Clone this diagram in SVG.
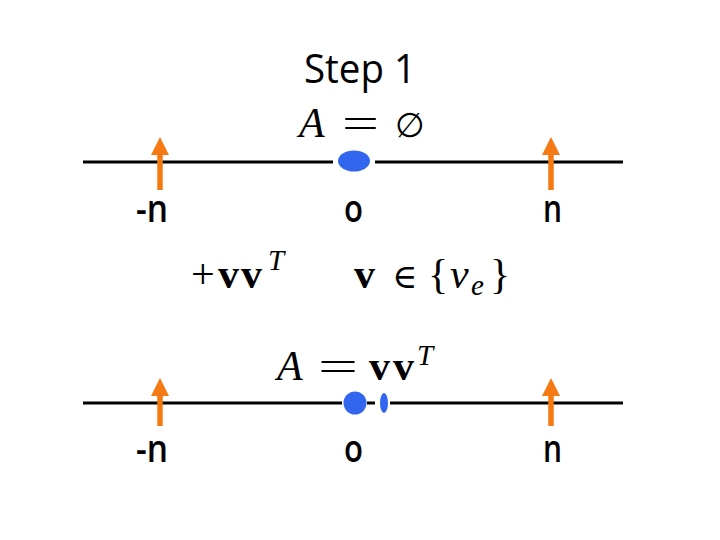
<svg xmlns="http://www.w3.org/2000/svg" width="720" height="540" viewBox="0 0 720 540">
<style>
.ax{stroke:#000;stroke-width:3;fill:none}
.arr{stroke:#f57a14;stroke-width:5.5;fill:none}
.head{fill:#f57a14}
.lbl{font-family:"Open Sans","Liberation Sans",sans-serif;font-size:38px;font-weight:600;fill:#000}
.ttl{font-family:"Open Sans","Liberation Sans",sans-serif;font-size:40px;fill:#000}
.m{font-family:"Liberation Serif","DejaVu Serif",serif;font-size:42px;fill:#000}
.s{font-family:"DejaVu Serif",serif;font-size:34px;fill:#000}
.i{font-style:italic}
.b{font-weight:bold}
.sup{font-family:"Liberation Serif","DejaVu Serif",serif;font-size:29px;font-style:italic;fill:#000}
.dot{fill:#3366ee}
</style>
<rect width="720" height="540" fill="#fff"/>
<g id="title"><text class="ttl" x="304" y="83" textLength="112" lengthAdjust="spacingAndGlyphs">Step 1</text></g>
<g id="connectors">
<line class="ax" x1="83" y1="162" x2="333" y2="162"/>
<line class="ax" x1="375" y1="162" x2="623" y2="162"/>
<line class="ax" x1="83" y1="403" x2="342" y2="403"/>
<line class="ax" x1="367" y1="403" x2="375" y2="403"/>
<line class="ax" x1="390" y1="403" x2="623" y2="403"/>
<line class="arr" x1="160" y1="190" x2="160" y2="152"/>
<path class="head" d="M151,155 L160,137 L169,155 Z"/>
<line class="arr" x1="551" y1="190" x2="551" y2="152"/>
<path class="head" d="M542,155 L551,137 L560,155 Z"/>
<line class="arr" x1="160" y1="426" x2="160" y2="393"/>
<path class="head" d="M151,396 L160,378 L169,396 Z"/>
<line class="arr" x1="551" y1="426" x2="551" y2="393"/>
<path class="head" d="M542,396 L551,378 L560,396 Z"/>
</g>
<g id="top-dot"><ellipse class="dot" cx="354" cy="161" rx="16" ry="10.5"/></g>
<g id="bottom-dots">
<circle class="dot" cx="355" cy="403" r="11.5"/>
<ellipse class="dot" cx="384" cy="403" rx="4" ry="10"/>
</g>
<g id="labels">
<text class="lbl" x="136" y="222" textLength="32" lengthAdjust="spacingAndGlyphs">-n</text>
<text class="lbl" x="344" y="222" textLength="19" lengthAdjust="spacingAndGlyphs">o</text>
<text class="lbl" x="543" y="222" textLength="19" lengthAdjust="spacingAndGlyphs">n</text>
<text class="lbl" x="136" y="462" textLength="32" lengthAdjust="spacingAndGlyphs">-n</text>
<text class="lbl" x="344" y="462" textLength="19" lengthAdjust="spacingAndGlyphs">o</text>
<text class="lbl" x="543" y="462" textLength="19" lengthAdjust="spacingAndGlyphs">n</text>
</g>
<g id="math-top">
<text class="m i" x="299" y="137">A</text>
<text class="m" x="342" y="137" textLength="37" lengthAdjust="spacingAndGlyphs">=</text>
<text class="s" x="395" y="137">∅</text>
</g>
<g id="math-mid">
<text class="m" x="191" y="288" font-size="48">+</text>
<text class="m b" x="218" y="288" font-size="45" letter-spacing="2">vv</text>
<text class="sup" x="268" y="270">T</text>
<text class="m b" x="354" y="288">v</text>
<text class="s" x="392" y="288">∈</text>
<text class="m" x="428" y="288">{</text>
<text class="m i" x="450" y="288" font-size="46">v</text>
<text class="sup" x="471" y="295">e</text>
<text class="m" x="490" y="288">}</text>
</g>
<g id="math-bottom">
<text class="m i" x="277" y="380">A</text>
<text class="m" x="318" y="380" textLength="40" lengthAdjust="spacingAndGlyphs">=</text>
<text class="m b" x="369" y="380" letter-spacing="3">vv</text>
<text class="sup" x="417" y="365">T</text>
</g>
</svg>
